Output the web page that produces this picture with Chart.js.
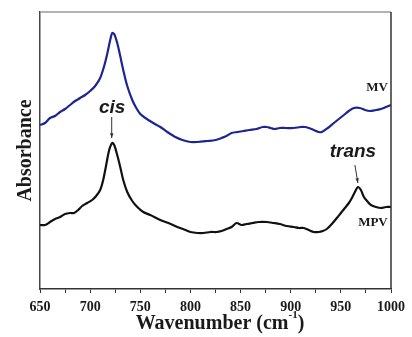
<!DOCTYPE html>
<html>
<head>
<meta charset="utf-8">
<script src="https://cdn.jsdelivr.net/npm/chart.js@4"></script>
<style>
  html, body { margin: 0; padding: 0; background: #fff; }
  #wrap { width: 412px; height: 337px; }
</style>
</head>
<body>
<div id="wrap"><canvas id="grafico"></canvas></div>
<script>
// IR spectra, absorbance in arbitrary units
const mvWave = [650,655,660,665,670,675,680,685,690,695,700,705,710,714,717,720,722,724,727,730,733,737,742,746,750,755,763,770,777,785,792,800,807,817,825,831,836,841,847,853,859,866,872,876,880,884,889,895,903,910,914,918,923,928,931,937,943,948,953,958,963,969,974,979,985,990,995,1000];
const mvAbs = [164,166,171,173,177,180,184,188,191,194,198,203,211,223,235,249,256,255,246,233,219,203,189,181,175,171,166,162,157,152,149,147,147,148,149,151,153,156,157,158,159,160,162,162,161,160,161,161,161,162,162,161,159,157,157,161,166,170,174,178,181,181,179,178,179,180,182,184];

const mpvWave = [650,655,660,665,670,675,680,684,688,692,697,702,706,710,713,716,719,722,724,727,730,733,737,742,747,753,760,770,778,787,795,800,807,813,820,826,831,836,841,846,851,856,862,868,876,883,889,896,903,908,913,918,923,928,932,936,941,946,950,954,958,961,964,967,970,973,977,980,985,990,995,1000];
const mpvAbs = [64,64,67,70,72,75,76,76,79,83,86,89,93,99,109,124,139,146,144,134,122,109,97,88,82,77,74,69,66,62,59,57,56,56,57,57,58,60,62,66,64,65,66,67,67,66,65,63,62,61,61,59,57,57,58,60,65,71,76,81,86,91,97,102,99,92,87,84,82,81,82,82];

const xTicksMajor = [650,700,750,800,850,900,950,1000];

// labels / arrows placed in data coordinates
const labels = [
  { text: 'cis', x: 722, y: 181, font: 'italic bold 19px "Liberation Sans"' },
  { text: 'trans', x: 962, y: 137, font: 'italic bold 19px "Liberation Sans"' },
  { text: 'MV', x: 986, y: 201, font: 'bold 13px "Liberation Serif"' },
  { text: 'MPV', x: 982, y: 66, font: 'bold 13px "Liberation Serif"' }
];
const arrows = [
  { x1: 721.5, y1: 172, x2: 721.5, y2: 151 },
  { x1: 964, y1: 124, x2: 967, y2: 106 }
];

function pontos(xs, ys) {
  return xs.map((x, i) => ({ x: x, y: ys[i] }));
}

const extras = {
  id: 'extras',
  afterDraw(chart) {
    const ctx = chart.ctx;
    const a = chart.chartArea;
    const sx = chart.scales.x, sy = chart.scales.y;
    ctx.save();
    // top and right frame
    ctx.lineWidth = 1.5;
    ctx.strokeStyle = '#999';
    ctx.beginPath();
    ctx.moveTo(a.left, a.top);
    ctx.lineTo(a.right, a.top);
    ctx.stroke();
    ctx.strokeStyle = '#333';
    ctx.beginPath();
    ctx.moveTo(a.right, a.top);
    ctx.lineTo(a.right, a.bottom);
    ctx.stroke();

    // text labels
    ctx.fillStyle = '#1a1a1a';
    ctx.textAlign = 'center';
    ctx.textBaseline = 'middle';
    labels.forEach(l => {
      ctx.font = l.font;
      ctx.fillText(l.text, sx.getPixelForValue(l.x), sy.getPixelForValue(l.y));
    });

    // arrows
    ctx.strokeStyle = '#333';
    ctx.fillStyle = '#333';
    ctx.lineWidth = 1;
    arrows.forEach(ar => {
      const x1 = sx.getPixelForValue(ar.x1), y1 = sy.getPixelForValue(ar.y1);
      const x2 = sx.getPixelForValue(ar.x2), y2 = sy.getPixelForValue(ar.y2);
      ctx.beginPath();
      ctx.moveTo(x1, y1);
      ctx.lineTo(x2, y2);
      ctx.stroke();
      const ang = Math.atan2(y2 - y1, x2 - x1);
      ctx.beginPath();
      ctx.moveTo(x2, y2);
      ctx.lineTo(x2 - 5 * Math.cos(ang - 0.35), y2 - 5 * Math.sin(ang - 0.35));
      ctx.lineTo(x2 - 5 * Math.cos(ang + 0.35), y2 - 5 * Math.sin(ang + 0.35));
      ctx.closePath();
      ctx.fill();
    });

    // x axis title with superscript
    const big = 'bold 20px "Liberation Serif"';
    const small = 'bold 11px "Liberation Serif"';
    const t1 = 'Wavenumber (cm', t2 = '-1', t3 = ')';
    ctx.font = big;
    const w1 = ctx.measureText(t1).width, w3 = ctx.measureText(t3).width;
    ctx.font = small;
    const w2 = ctx.measureText(t2).width;
    let x = 220 - (w1 + w2 + w3) / 2;
    const y = 324;
    ctx.fillStyle = '#1a1a1a';
    ctx.textAlign = 'left';
    ctx.font = big;
    ctx.fillText(t1, x, y);
    x += w1;
    ctx.font = small;
    ctx.fillText(t2, x, y - 9);
    x += w2;
    ctx.font = big;
    ctx.fillText(t3, x, y);
    ctx.restore();
  }
};

const ctx = document.getElementById('grafico').getContext('2d');

const grafico = new Chart(ctx, {
  type: 'line',
  data: {
    datasets: [{
      label: 'MV',
      data: pontos(mvWave, mvAbs),
      borderColor: '#1c2590',
      borderWidth: 2.2,
      pointRadius: 0,
      tension: 0.3
    }, {
      label: 'MPV',
      data: pontos(mpvWave, mpvAbs),
      borderColor: '#111',
      borderWidth: 2.2,
      pointRadius: 0,
      tension: 0.3
    }]
  },
  options: {
    responsive: true,
    maintainAspectRatio: false,
    animation: false,
    layout: { padding: { top: 12, right: 21, left: 0, bottom: 0 } },
    plugins: { legend: { display: false }, tooltip: { enabled: false } },
    scales: {
      x: {
        type: 'linear',
        min: 650,
        max: 1000,
        afterFit(s) { s.height = 48; },
        border: { display: true, color: '#333', width: 1.5 },
        grid: { display: true, drawOnChartArea: false, drawTicks: true, tickLength: 4, color: '#333' },
        ticks: {
          stepSize: 25,
          autoSkip: false,
          maxRotation: 0,
          padding: 6,
          color: '#1a1a1a',
          font: { family: 'Liberation Serif', weight: 'bold', size: 14 },
          callback: v => xTicksMajor.includes(v) ? v : ''
        }
      },
      y: {
        min: 0,
        max: 277,
        afterFit(s) { s.width = 40; },
        border: { display: true, color: '#444', width: 1.5 },
        grid: { display: false },
        ticks: { display: false },
        title: {
          display: true,
          text: 'Absorbance',
          color: '#1a1a1a',
          font: { family: 'Liberation Serif', weight: 'bold', size: 20 },
          padding: { top: 14, bottom: 0 }
        }
      }
    }
  },
  plugins: [extras]
});
</script>
</body>
</html>
